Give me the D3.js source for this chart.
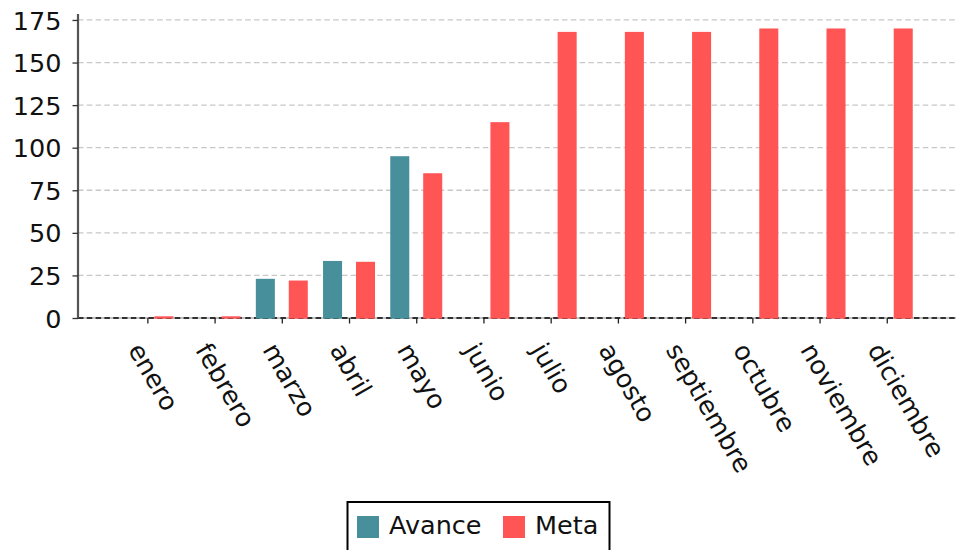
<!DOCTYPE html>
<html><head><meta charset="utf-8">
<script src="https://cdn.jsdelivr.net/npm/d3@7/dist/d3.min.js"></script>
<style>body{margin:0;background:#fff}svg{display:block;font-family:"DejaVu Sans",sans-serif}</style>
</head><body><svg id="c" width="963" height="550"></svg>
<script>
const months = ["enero","febrero","marzo","abril","mayo","junio","julio","agosto","septiembre","octubre","noviembre","diciembre"];
const avance = [0,0,23,33.5,95,null,null,null,null,null,null,null];
const meta = [1,1,22,33,85,115,168,168,168,170,170,170];
const yTicks = [0,25,50,75,100,125,150,175];
const seriesNames = ["Avance","Meta"];
const colors = ["#468f9b","#ff5555"];

const svg = d3.select("#c");
const mLeft = 78, mRight = 956, mTop = 14, mBottom = 318;
const x = d3.scaleLinear().domain([-1.032, 12.03]).range([mLeft, mRight]);
const y = d3.scaleLinear().domain([0, 178.5]).range([mBottom, mTop]);
const fs = 25.5;

// gridlines
svg.append("g").selectAll("line").data(yTicks.filter(d=>d>0)).join("line")
  .attr("x1", mLeft).attr("x2", mRight).attr("y1", d=>y(d)).attr("y2", d=>y(d))
  .attr("stroke", "#c8c8c8").attr("stroke-width", 1.3).attr("stroke-dasharray", "5.5,3.3");

// bottom spine + zero dashed line
svg.append("line").attr("x1", mLeft).attr("x2", mRight).attr("y1", y(0)).attr("y2", y(0))
  .attr("stroke", "#b0b0b0").attr("stroke-width", 1.5);
svg.append("line").attr("x1", mLeft).attr("x2", mRight).attr("y1", y(0)).attr("y2", y(0))
  .attr("stroke", "#000").attr("stroke-width", 1.5).attr("stroke-dasharray", "5.5,3.3");

// bars
const off = 0.245, bw = 0.283;
const series = [avance, meta];
series.forEach((vals, si) => {
  svg.append("g").selectAll("rect").data(vals.map((v,i)=>({v,i})).filter(d=>d.v!=null && d.v>0)).join("rect")
    .attr("x", d => x(d.i + (si===0?-off:off) - bw/2))
    .attr("width", d => x(d.i + bw/2) - x(d.i - bw/2))
    .attr("y", d => y(d.v))
    .attr("height", d => y(0) - y(d.v) + 0.6)
    .attr("fill", colors[si]);
});

// y axis
const yAxis = d3.axisLeft(y).tickValues(yTicks).tickSize(5.5).tickPadding(11).tickFormat(d3.format("d"));
const gy = svg.append("g").attr("transform", `translate(${mLeft},0)`).call(yAxis);
gy.select(".domain").attr("stroke", "#555").attr("stroke-width", 2.2).attr("d", `M0,${mTop}V${mBottom}`);
gy.selectAll(".tick line").attr("stroke", "#333").attr("stroke-width", 1.3);
gy.selectAll(".tick text").attr("font-size", fs).attr("fill", "#111").attr("font-family", "DejaVu Sans").attr("dy", "0.355em");

// x axis
const xAxis = d3.axisBottom(x).tickValues(d3.range(months.length)).tickSize(5.5).tickFormat(i=>months[i]);
const gx = svg.append("g").attr("transform", `translate(0,${mBottom})`).call(xAxis);
gx.select(".domain").remove();
gx.selectAll(".tick line").attr("stroke", "#222").attr("stroke-width", 1.3);
gx.selectAll(".tick text").attr("font-size", fs).attr("fill", "#111").attr("font-family", "DejaVu Sans")
  .attr("text-anchor", "start").attr("dy", null)
  .attr("x", 0).attr("y", 23.5)
  .attr("transform", "translate(0,20) rotate(60)");

// legend
const lg = svg.append("g");
lg.append("rect").attr("x", 347.5).attr("y", 502).attr("width", 262).attr("height", 60)
  .attr("fill", "#fff").attr("stroke", "#000").attr("stroke-width", 2);
const lx = [357, 503];
seriesNames.forEach((n, i) => {
  lg.append("rect").attr("x", lx[i]).attr("y", 516).attr("width", 22).attr("height", 22).attr("fill", colors[i]);
  lg.append("text").attr("x", lx[i] + 32).attr("y", 534.3)
    .attr("font-size", fs).attr("fill", "#111").text(n);
});
</script></body></html>
